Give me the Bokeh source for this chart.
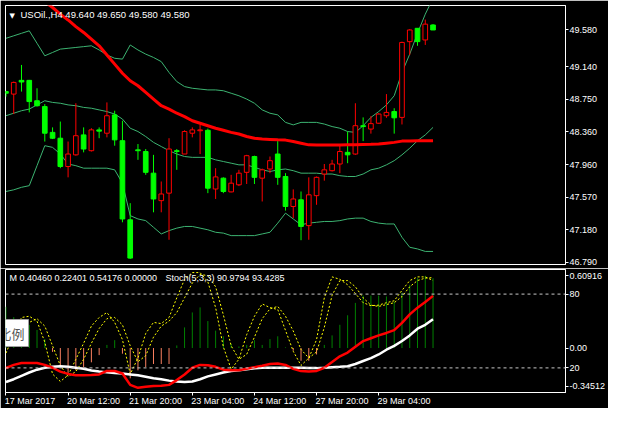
from bokeh.plotting import figure
from bokeh.layouts import column
from bokeh.models import (Range1d, FixedTicker, PrintfTickFormatter, Label, Span,
                          ColumnDataSource, LinearAxis)
from bokeh.embed import file_html
from bokeh.resources import INLINE

# ---------------- data ----------------
bars = list(range(56))
opens = [48.84, 48.81, 48.975, 48.975, 48.73, 48.66, 48.35, 48.28, 47.94, 48.08,
         48.32, 48.13, 48.38, 48.34, 48.56, 48.25, 47.30, 48.14, 48.12, 47.86,
         47.53, 47.62, 48.13, 48.09, 48.34, 48.37, 48.375, 47.67, 47.80, 47.635,
         47.72, 47.87, 48.06, 47.80, 47.91, 48.09, 47.82, 47.46, 47.54, 47.23,
         47.59, 47.85, 47.89, 47.97, 48.11, 48.09, 48.43, 48.39, 48.46, 48.55,
         48.60, 48.53, 49.44, 49.60, 49.46, 49.64]
highs = [48.85, 48.96, 49.16, 48.98, 48.88, 48.69, 48.41, 48.48, 48.24, 48.70,
         48.41, 48.40, 48.41, 48.71, 48.61, 48.49, 47.50, 48.21, 48.15, 48.08,
         47.76, 48.28, 48.15, 48.375, 48.41, 48.44, 48.395, 47.92, 47.81, 47.84,
         47.90, 48.08, 48.07, 47.915, 48.06, 48.245, 47.86, 47.665, 47.64, 47.81,
         47.82, 47.97, 48.02, 48.21, 48.36, 48.70, 48.53, 48.545, 48.58, 48.81,
         48.64, 49.44, 49.59, 49.60, 49.705, 49.65]
lows = [48.78, 48.57, 48.84, 48.59, 48.66, 48.24, 48.27, 47.92, 47.81, 48.07,
        48.11, 48.12, 48.28, 48.29, 48.19, 47.27, 46.83, 48.02, 47.84, 47.39,
        47.39, 47.06, 47.90, 48.09, 48.29, 48.09, 47.62, 47.55, 47.62, 47.63,
        47.705, 47.73, 47.73, 47.52, 47.86, 47.72, 47.41, 47.32, 47.055, 47.06,
        47.48, 47.77, 47.88, 47.86, 47.98, 48.08, 48.245, 48.335, 48.455, 48.525,
        48.335, 48.445, 49.28, 49.39, 49.40, 49.58]
closes = [48.82, 48.95, 48.955, 48.72, 48.67, 48.34, 48.28, 47.94, 48.09, 48.31,
          48.15, 48.38, 48.365, 48.55, 48.26, 47.31, 46.84, 48.13, 47.87, 47.55,
          47.61, 48.15, 48.12, 48.36, 48.38, 48.38, 47.68, 47.815, 47.64, 47.74,
          47.86, 48.07, 47.81, 47.90, 48.01, 47.81, 47.46, 47.55, 47.22, 47.60,
          47.81, 47.90, 47.97, 48.12, 48.08, 48.43, 48.42, 48.455, 48.57, 48.59,
          48.525, 49.43, 49.58, 49.44, 49.65, 49.58]
ma = [50.30, 50.22, 50.15, 50.07, 49.99, 49.92, 49.85, 49.77, 49.70, 49.62,
      49.55, 49.47, 49.39, 49.28, 49.17, 49.06, 48.97, 48.91, 48.83, 48.75,
      48.67, 48.63, 48.58, 48.54, 48.49, 48.46, 48.43, 48.40, 48.375, 48.35,
      48.33, 48.30, 48.28, 48.27, 48.265, 48.26, 48.257, 48.24, 48.22, 48.20,
      48.198, 48.198, 48.198, 48.198, 48.20, 48.20, 48.205, 48.206, 48.21, 48.22,
      48.23, 48.245, 48.245, 48.25, 48.25, 48.25]
bb_upper = [49.48, 49.51, 49.54, 49.57, 49.42, 49.27, 49.31, 49.35, 49.36, 49.37,
            49.38, 49.39, 49.34, 49.28, 49.24, 49.23, 49.40, 49.34, 49.29, 49.25,
            49.20, 49.07, 48.96, 48.90, 48.88, 48.87, 48.86, 48.86, 48.85, 48.82,
            48.79, 48.75, 48.70, 48.62, 48.58, 48.56, 48.47, 48.44, 48.47, 48.47,
            48.47, 48.45, 48.42, 48.40, 48.36, 48.35, 48.43, 48.53, 48.60, 48.68,
            48.79, 49.07, 49.29, 49.54, 49.77, 49.96]
bb_mid = [48.55, 48.58, 48.61, 48.63, 48.68, 48.73, 48.71, 48.70, 48.68, 48.67,
          48.65, 48.64, 48.62, 48.60, 48.57, 48.51, 48.40, 48.36, 48.30, 48.23,
          48.18, 48.13, 48.09, 48.06, 48.05, 48.05, 48.05, 48.02, 48.00, 47.98,
          47.96, 47.96, 47.93, 47.90, 47.88, 47.90, 47.91, 47.89, 47.86, 47.86,
          47.86, 47.85, 47.85, 47.83, 47.82, 47.82, 47.85, 47.90, 47.92, 47.96,
          48.01, 48.08, 48.16, 48.25, 48.32, 48.41]
bb_lower = [47.64, 47.66, 47.69, 47.71, 47.95, 48.19, 48.17, 48.09, 47.97, 47.95,
            47.92, 47.92, 47.92, 47.92, 47.90, 47.74, 47.35, 47.31, 47.29, 47.21,
            47.13, 47.17, 47.20, 47.22, 47.22, 47.20, 47.18, 47.15, 47.14, 47.11,
            47.11, 47.11, 47.11, 47.13, 47.15, 47.26, 47.38, 47.31, 47.24, 47.26,
            47.27, 47.28, 47.28, 47.29, 47.31, 47.32, 47.32, 47.28, 47.26, 47.25,
            47.25, 47.09, 46.97, 46.95, 46.92, 46.92]
# right price scale: regular levels plus the current price (49.580) on top
price_ticks = [46.79, 47.18, 47.57, 47.96, 48.36, 48.75, 49.14, 49.58]

m_hist = [0.32, 0.24, 0.18, 0.18, 0.14, 0.07, -0.03, -0.148, -0.198, -0.173,
          -0.148, -0.111, -0.055, 0.024, 0.061, -0.044, -0.235, -0.173, -0.148, -0.124,
          -0.124, -0.124, 0.02, 0.16, 0.276, 0.315, 0.209, 0.135, 0.091, 0.032,
          0.012, 0.024, 0.061, 0.024, 0.069, 0.091, 0.005, -0.02, -0.099, -0.099,
          -0.05, 0.024, 0.098, 0.18, 0.254, 0.35, 0.407, 0.407, 0.407, 0.40,
          0.36, 0.43, 0.49, 0.542, 0.56, 0.5418]
m_red = [-0.155, -0.131, -0.116, -0.116, -0.116, -0.131, -0.153, -0.183, -0.201, -0.212,
         -0.212, -0.209, -0.205, -0.178, -0.178, -0.198, -0.286, -0.309, -0.301, -0.294,
         -0.292, -0.286, -0.249, -0.205, -0.153, -0.131, -0.133, -0.146, -0.168, -0.172,
         -0.172, -0.161, -0.149, -0.138, -0.124, -0.120, -0.131, -0.161, -0.179, -0.183,
         -0.178, -0.153, -0.109, -0.064, -0.035, 0.010, 0.054, 0.076, 0.098, 0.117,
         0.139, 0.195, 0.261, 0.313, 0.357, 0.4046]
m_white = [-0.264, -0.242, -0.216, -0.190, -0.168, -0.153, -0.146, -0.142, -0.146, -0.153,
           -0.161, -0.175, -0.183, -0.189, -0.194, -0.198, -0.205, -0.212, -0.223, -0.235,
           -0.242, -0.253, -0.260, -0.264, -0.260, -0.242, -0.220, -0.205, -0.190, -0.179,
           -0.172, -0.164, -0.157, -0.153, -0.153, -0.153, -0.153, -0.153, -0.153, -0.155,
           -0.156, -0.153, -0.149, -0.146, -0.141, -0.124, -0.101, -0.079, -0.050, -0.013,
           0.017, 0.054, 0.098, 0.150, 0.180, 0.224]
stoch_k = [32, 47, 61, 62, 58, 41, 15, 9, 14, 27,
           40, 54, 61, 65, 57, 43, 15, 28, 48, 57,
           56, 61, 77, 92, 97.5, 97.5, 90, 69, 37, 19,
           27, 47, 62, 72, 69, 67.5, 50.5, 33.5, 22, 28,
           43, 77, 94, 92, 87.6, 80.5, 73, 70.6, 71, 73,
           74.6, 83, 91, 94, 94, 91]
stoch_d = [45, 44, 47, 57, 60, 54, 38, 22, 13, 17,
           27, 40, 52, 60, 61, 55, 38, 25, 30, 45,
           54, 58, 65, 77, 89, 96, 95, 86, 63, 38,
           27, 31, 45, 60, 68, 70, 62, 50, 35, 28,
           33, 53, 79, 91, 91, 86, 77, 71, 70, 71.5,
           73, 78, 86, 91, 93, 93.4]
m_min, m_max = -0.34512, 0.60916
stoch_levels = [80, 20]
time_ticks = [0, 8, 16, 24, 32, 40, 48]
time_labels = ["17 Mar 2017", "20 Mar 12:00", "21 Mar 20:00", "23 Mar 04:00",
               "24 Mar 12:00", "27 Mar 20:00", "29 Mar 04:00"]

# ---------------- layout constants ----------------
FONT = "Liberation Sans"
FS = "9px"
W = 608
LB, RB = 5, 40
FW = W - LB - RB
H1, T1, B1 = 268, 5, 4
FH1 = H1 - T1 - B1
H2, T2, B2 = 140, 1, 15
FH2 = H2 - T2 - B2
UP_COL, DN_COL = "#ff0000", "#00ff00"
BB_COL = "#3cb371"
LABEL_SHIFT = [3.1, 3.27, 3.27, 3.27, 3.27, 3.27, 3.27]  # label centre offset (bars)


def style_axis(ax):
    ax.major_label_text_color = "white"
    ax.major_label_text_font = FONT
    ax.major_label_text_font_size = FS
    ax.axis_line_color = "white"
    ax.major_tick_line_color = "white"
    ax.major_tick_out = 3
    ax.major_tick_in = 0
    ax.minor_tick_line_color = None
    ax.major_label_standoff = 1


# ---------------- price panel ----------------
x_range = Range1d(-0.06, 72.06)
p = figure(width=W, height=H1, x_range=x_range, y_range=Range1d(46.763, 49.874),
           x_axis_location=None, y_axis_location="right",
           toolbar_location=None, output_backend="svg",
           min_border_left=LB, min_border_right=RB, min_border_top=T1, min_border_bottom=B1,
           background_fill_color="black", border_fill_color="black")
p.outline_line_color = "white"
p.xgrid.visible = False
p.ygrid.visible = False
ya = p.yaxis[0]
ya.ticker = FixedTicker(ticks=price_ticks)
ya.formatter = PrintfTickFormatter(format="%.3f")
style_axis(ya)

up = [c > o for o, c in zip(opens, closes)]
src = ColumnDataSource(dict(
    x=bars, h=highs, l=lows,
    top=[max(o, c) for o, c in zip(opens, closes)],
    bottom=[min(o, c) for o, c in zip(opens, closes)],
    color=[UP_COL if u else DN_COL for u in up],
    fill=["black" if u else DN_COL for u in up],
))
p.line(bars, bb_upper, line_color=BB_COL, line_width=1)
p.line(bars, bb_mid, line_color=BB_COL, line_width=1)
p.line(bars, bb_lower, line_color=BB_COL, line_width=1)
p.segment(x0="x", y0="l", x1="x", y1="h", line_color="color", line_width=1, source=src)
p.vbar(x="x", width=0.6, top="top", bottom="bottom", fill_color="fill",
       line_color="color", line_width=1, source=src)
p.line(bars, ma, line_color="#ff0000", line_width=3)

p.add_layout(Label(x=4, y=FH1 - 6, x_units="screen", y_units="screen", text="▼",
                   text_color="white", text_font="DejaVu Sans", text_font_size="7px",
                   text_baseline="top"))
p.add_layout(Label(x=15, y=FH1 - 3, x_units="screen", y_units="screen",
                   text="USOil.,H4 49.640 49.650 49.580 49.580",
                   text_color="white", text_font=FONT, text_font_size="9.5px",
                   text_baseline="top"))

# ---------------- indicator panel ----------------
q = figure(width=W, height=H2, x_range=x_range, y_range=Range1d(m_min, m_max),
           x_axis_location="below", y_axis_location="right",
           toolbar_location=None, output_backend="svg",
           min_border_left=LB, min_border_right=RB, min_border_top=T2, min_border_bottom=B2,
           background_fill_color="black", border_fill_color="black")
q.extra_y_ranges = {"stoch": Range1d(0, 100)}
q.outline_line_color = "white"
q.xgrid.visible = False
q.ygrid.visible = False

span = m_max - m_min
lvl80 = m_min + 0.8 * span
lvl20 = m_min + 0.2 * span
top_lbl = m_max - 0.05
bot_lbl = m_min + 0.05
ra = q.yaxis[0]
ra.ticker = FixedTicker(ticks=[top_lbl, lvl80, 0.0, lvl20, bot_lbl])
ra.major_label_overrides = {top_lbl: "0.60916", lvl80: "80", 0.0: "0.00",
                            lvl20: "20", bot_lbl: "-0.34512"}
style_axis(ra)

# tick marks only
xa = q.xaxis[0]
xa.ticker = FixedTicker(ticks=time_ticks)
xa.major_label_overrides = {t: "" for t in time_ticks}
style_axis(xa)
xa.major_label_text_font_size = "1px"
xa.major_label_standoff = 0
# labels, left-aligned at the ticks
label_pos = [t + s for t, s in zip(time_ticks, LABEL_SHIFT)]
xb = LinearAxis(ticker=FixedTicker(ticks=label_pos),
                major_label_overrides=dict(zip(label_pos, time_labels)))
style_axis(xb)
xb.axis_line_color = None
xb.major_tick_line_color = None
xb.major_tick_out = 0
xb.major_label_standoff = 0
q.add_layout(xb, "below")

for lv in stoch_levels:
    q.add_layout(Span(location=lv, dimension="width", y_range_name="stoch",
                      line_color="#c8c8c8", line_dash="3 3", line_width=1))

hsrc = ColumnDataSource(dict(x=bars, y0=[0] * len(bars), y1=m_hist,
                             c=["#008000" if v >= 0 else "#fa8060" for v in m_hist]))
q.segment(x0="x", y0="y0", x1="x", y1="y1", line_color="c", line_width=1, source=hsrc)
q.line(bars, stoch_d, y_range_name="stoch", line_color="#ffff00", line_dash="2 2", line_width=1)
q.line(bars, stoch_k, y_range_name="stoch", line_color="#ffff00", line_dash="2 2", line_width=1)
q.line(bars, m_white, line_color="white", line_width=2.5)
q.line(bars, m_red, line_color="#ff0000", line_width=2.5)

q.add_layout(Label(x=4, y=FH2 - 4, x_units="screen", y_units="screen",
                   text="M 0.40460 0.22401 0.54176 0.00000",
                   text_color="white", text_font=FONT, text_font_size=FS, text_baseline="top"))
q.add_layout(Label(x=160, y=FH2 - 4, x_units="screen", y_units="screen",
                   text="Stoch(5,3,3) 90.9794 93.4285",
                   text_color="white", text_font=FONT, text_font_size=FS, text_baseline="top"))
q.add_layout(Label(x=-11, y=FH2 - 51, x_units="screen", y_units="screen", text="比例",
                   text_color="#555555", text_font="Noto Sans CJK SC", text_font_size="13px",
                   text_baseline="top", background_fill_color="white",
                   border_line_color="#a0a0a0", padding=4))

layout = column(p, q, spacing=0)
open("out.html", "w").write(file_html(layout, INLINE))
